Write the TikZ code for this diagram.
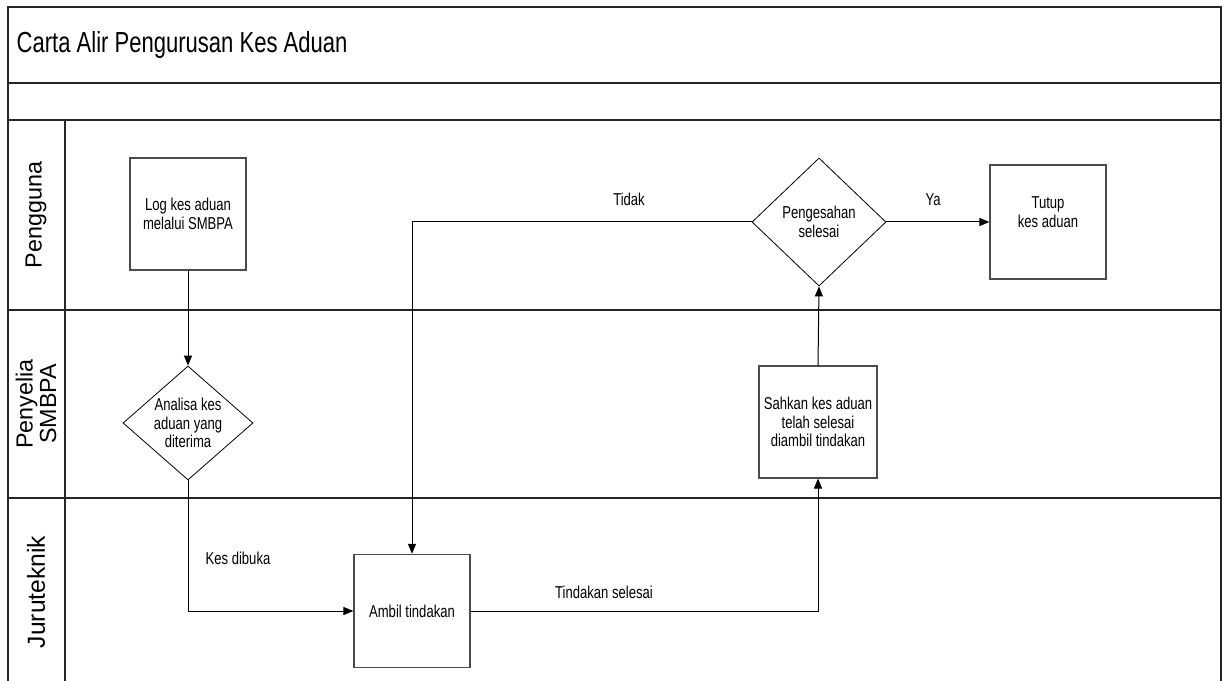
\documentclass[tikz,border=0pt]{standalone}
\usepackage{fontspec}
\setmainfont{Liberation Sans}
\newfontfamily\narrowfont[FakeStretch=0.76]{Liberation Sans}
\usetikzlibrary{positioning,shapes.geometric,arrows.meta}
\newcommand{\txtfont}{\narrowfont\fontsize{12.9}{13.9}\selectfont}

\begin{document}
\begin{tikzpicture}[
    x=0.75pt, y=-0.75pt,
    frame/.style={line width=1.1pt, black!85},
    proc/.style={rectangle, draw=black!70, line width=0.8pt, minimum width=87pt, minimum height=84pt, font=\txtfont, align=center},
    decision/.style={diamond, draw=black, line width=0.6pt, inner sep=0pt},
    lane/.style={rotate=90, font=\fontsize{17.5}{17.5}\selectfont, align=center},
    lbl/.style={font=\txtfont, align=center},
    flow/.style={-{Triangle[length=7.5pt,width=6pt]}, line width=0.75pt}
]
\useasboundingbox (0,0) rectangle (1225,681);

% Frame and lanes
\draw[frame] (8,681) -- (8,7) -- (1221,7) -- (1221,681);
\draw[frame] (8,83) -- (1221,83);
\draw[frame, line width=1.5pt] (8,120) -- (1221,120);
\draw[frame] (8,310) -- (1221,310);
\draw[frame] (8,498) -- (1221,498);
\draw[frame, line width=0.8pt] (65,120) -- (65,681);

% Title
\node[anchor=base west, font=\narrowfont\fontsize{21.75}{24}\selectfont] (title) at (12,53) {Carta Alir Pengurusan Kes Aduan};

% Lane labels
\node[lane] (pengguna) at (36,215) {Pengguna};
\node[lane] (penyelia) at (36,404) {Penyelia\\SMBPA};
\node[lane, font=\fontsize{18.5}{18.5}\selectfont] (juru) at (36,592) {Juruteknik};

% Nodes
\node[proc] (log) at (188,214) {Log kes aduan\\melalui SMBPA};
\node[decision, minimum width=97.5pt, minimum height=85.5pt,
      label={[lbl]center:{Analisa kes\\aduan yang\\diterima}}] (analisa) at (188,423) {};
\node[proc, minimum height=85pt] (ambil) at (412,611) {Ambil tindakan};
\node[proc, minimum width=88.5pt] (sahkan) at (818,422) {Sahkan kes aduan\\telah selesai\\diambil tindakan};
\node[decision, minimum width=100.5pt, minimum height=96pt,
      label={[lbl]center:{Pengesahan\\selesai}}] (sah) at (819,222) {};
\node[proc, minimum height=85.5pt,
      label={[lbl, yshift=7.5pt]center:{Tutup\\kes aduan}}] (tutup) at (1048,222) {};

% Edges
\draw[flow] (log) -- (analisa);
\draw[flow] (analisa.south) |- (ambil.west);
\draw[flow] (ambil.east) -| (sahkan.south);
\draw[flow] (sahkan.north) -- (sah.south);
\draw[flow] (sah.west) -| (ambil.north);
\draw[flow] (sah.east) -- (tutup.west);

% Edge labels
\node[lbl] (kesdibuka) at (238,558) {Kes dibuka};
\node[lbl] (tindselesai) at (604,592) {Tindakan selesai};
\node[lbl] (tidak) at (629,199) {Tidak};
\node[lbl] (ya) at (933,200) {Ya};

\end{tikzpicture}
\end{document}
